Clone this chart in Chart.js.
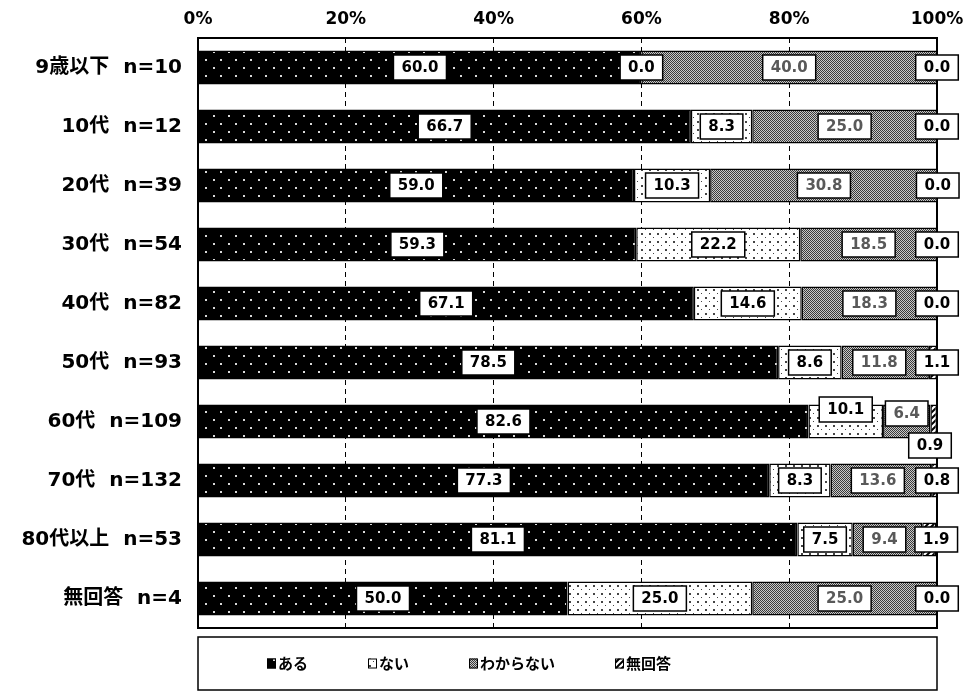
<!DOCTYPE html>
<html lang="ja">
<head>
<meta charset="utf-8">
<script src="https://cdn.jsdelivr.net/npm/chart.js@4.4.1/dist/chart.umd.min.js"></script>
<style>
  html, body { margin: 0; padding: 0; background: #fff; }
  #wrap { width: 968px; height: 695px; position: relative; }
</style>
</head>
<body>
<div id="wrap"><canvas id="ageChart"></canvas></div>
<script>
const categories = [
  "9歳以下  n=10", "10代  n=12", "20代  n=39", "30代  n=54", "40代  n=82",
  "50代  n=93", "60代  n=109", "70代  n=132", "80代以上  n=53", "無回答  n=4",
];
const seriesNames = ["ある", "ない", "わからない", "無回答"];
const aruValues = [60.0, 66.7, 59.0, 59.3, 67.1, 78.5, 82.6, 77.3, 81.1, 50.0];
const naiValues = [0.0, 8.3, 10.3, 22.2, 14.6, 8.6, 10.1, 8.3, 7.5, 25.0];
const wakaranaiValues = [40.0, 25.0, 30.8, 18.5, 18.3, 11.8, 6.4, 13.6, 9.4, 25.0];
const mukaitoValues = [0.0, 0.0, 0.0, 0.0, 0.0, 1.1, 0.9, 0.8, 1.9, 0.0];
const tickLabels = ["0%", "20%", "40%", "60%", "80%", "100%"];

const FONT = "'DejaVu Sans', 'Noto Sans CJK JP', sans-serif";
const JP_FONT = "'Noto Sans CJK JP', sans-serif";

// small nudges for labels that overlap in the 60代 row
const labelNudges = {
  "1-6": { dx: 0, dy: -12 },
  "2-6": { dx: 0, dy: -8 },
  "3-6": { dx: -7, dy: 24 },
  "2-5": { dx: -6, dy: 0 },
  "2-7": { dx: -3, dy: 0 },
  "2-8": { dx: -3, dy: 0 },
};

function makePattern(w, h, draw) {
  const c = document.createElement("canvas");
  c.width = w;
  c.height = h;
  const ctx = c.getContext("2d");
  draw(ctx);
  return ctx.createPattern(c, "repeat");
}

const patternAru = makePattern(15, 16, (ctx) => {
  ctx.fillStyle = "#000";
  ctx.fillRect(0, 0, 15, 16);
  ctx.fillStyle = "#d8d8d8";
  ctx.fillRect(3, 3, 2, 2);
  ctx.fillRect(10, 11, 2, 2);
});

const patternNai = makePattern(8, 8, (ctx) => {
  ctx.fillStyle = "#fff";
  ctx.fillRect(0, 0, 8, 8);
  ctx.fillStyle = "#444";
  ctx.fillRect(1, 1, 2, 2);
  ctx.fillRect(5, 5, 1, 1);
});

const patternWakaranai = makePattern(2, 2, (ctx) => {
  ctx.fillStyle = "#c8c8c8";
  ctx.fillRect(0, 0, 2, 2);
  ctx.fillStyle = "#3a3a3a";
  ctx.fillRect(0, 0, 1, 1);
  ctx.fillRect(1, 1, 1, 1);
});

const patternMukaito = makePattern(6, 6, (ctx) => {
  ctx.fillStyle = "#fff";
  ctx.fillRect(0, 0, 6, 6);
  ctx.strokeStyle = "#000";
  ctx.lineWidth = 2;
  ctx.beginPath();
  ctx.moveTo(0, 6);
  ctx.lineTo(6, 0);
  ctx.moveTo(-3, 3);
  ctx.lineTo(3, -3);
  ctx.moveTo(3, 9);
  ctx.lineTo(9, 3);
  ctx.stroke();
});

const seriesPatterns = [patternAru, patternNai, patternWakaranai, patternMukaito];
const labelColors = ["#000", "#000", "#595959", "#000"];

const valueLabelPlugin = {
  id: "valueLabels",
  afterDatasetsDraw(chart) {
    const ctx = chart.ctx;
    ctx.save();
    ctx.font = "bold 15px " + FONT;
    ctx.textAlign = "center";
    ctx.textBaseline = "middle";
    chart.data.datasets.forEach((ds, di) => {
      const meta = chart.getDatasetMeta(di);
      meta.data.forEach((bar, i) => {
        const text = ds.data[i].toFixed(1);
        let x;
        if (di === 3) {
          x = bar.x;
        } else {
          x = (bar.x + bar.base) / 2;
        }
        let y = bar.y;
        const nudge = labelNudges[di + "-" + i];
        if (nudge) {
          x += nudge.dx;
          y += nudge.dy;
        }
        const tw = ctx.measureText(text).width;
        const bw = tw + 16;
        const bh = 25;
        ctx.fillStyle = "#fff";
        ctx.fillRect(x - bw / 2, y - bh / 2, bw, bh);
        ctx.strokeStyle = "#000";
        ctx.lineWidth = 1.5;
        ctx.strokeRect(x - bw / 2, y - bh / 2, bw, bh);
        ctx.fillStyle = labelColors[di];
        ctx.fillText(text, x, y + 1);
      });
    });
    ctx.restore();
  },
};

const frameAndLegendPlugin = {
  id: "frameAndLegend",
  beforeDatasetsDraw(chart) {
    const { ctx, chartArea } = chart;
    ctx.save();
    ctx.strokeStyle = "#000";
    ctx.lineWidth = 2;
    ctx.strokeRect(chartArea.left, chartArea.top, chartArea.right - chartArea.left, chartArea.bottom - chartArea.top);
    ctx.restore();
  },
  afterDraw(chart) {
    const { ctx, chartArea } = chart;
    const top = chartArea.bottom + 9;
    const bottom = chart.height - 5;
    ctx.save();
    ctx.strokeStyle = "#000";
    ctx.lineWidth = 1.5;
    ctx.strokeRect(chartArea.left, top, chartArea.right - chartArea.left, bottom - top);

    ctx.font = "bold 15px " + JP_FONT;
    ctx.textBaseline = "middle";
    ctx.textAlign = "left";
    const midY = (top + bottom) / 2;
    let x = chartArea.left + 69;
    seriesNames.forEach((name, i) => {
      ctx.fillStyle = seriesPatterns[i];
      ctx.fillRect(x, midY - 5, 9, 10);
      ctx.strokeStyle = "#000";
      ctx.lineWidth = 1;
      ctx.strokeRect(x + 0.5, midY - 4.5, 8, 9);
      ctx.fillStyle = "#000";
      ctx.fillText(name, x + 11, midY);
      x += 11 + ctx.measureText(name).width + 60;
    });
    ctx.restore();
  },
};

const datasetValues = [aruValues, naiValues, wakaranaiValues, mukaitoValues];

const ctx = document.getElementById("ageChart").getContext("2d");
new Chart(ctx, {
  type: "bar",
  data: {
    labels: categories,
    datasets: seriesNames.map((name, i) => ({
      label: name,
      data: datasetValues[i],
      backgroundColor: seriesPatterns[i],
      borderColor: "#000",
      borderWidth: 1.5,
      borderSkipped: false,
      barPercentage: 0.58,
      categoryPercentage: 1.0,
    })),
  },
  options: {
    indexAxis: "y",
    responsive: true,
    maintainAspectRatio: false,
    animation: false,
    layout: {
      padding: { top: 0, right: 31, bottom: 67, left: 0 },
    },
    plugins: {
      legend: { display: false },
      tooltip: { enabled: false },
    },
    scales: {
      x: {
        position: "top",
        stacked: true,
        min: 0,
        max: 100,
        afterFit(scale) {
          scale.height = 38;
          scale.paddingLeft = 0;
          scale.paddingRight = 0;
        },
        ticks: {
          stepSize: 20,
          padding: 8,
          color: "#000",
          font: { family: FONT, size: 17, weight: "bold" },
          callback: function (value) {
            return tickLabels[value / 20];
          },
        },
        grid: {
          color: "#000",
          lineWidth: 1,
          drawTicks: false,
        },
        border: {
          display: false,
          dash: [5, 4],
        },
      },
      y: {
        stacked: true,
        afterFit(scale) {
          scale.width = 198;
        },
        ticks: {
          padding: 16,
          color: "#000",
          font: { family: FONT, size: 20, weight: "bold" },
        },
        grid: { display: false, drawTicks: false },
        border: { display: false },
      },
    },
  },
  plugins: [frameAndLegendPlugin, valueLabelPlugin],
});
</script>
</body>
</html>
